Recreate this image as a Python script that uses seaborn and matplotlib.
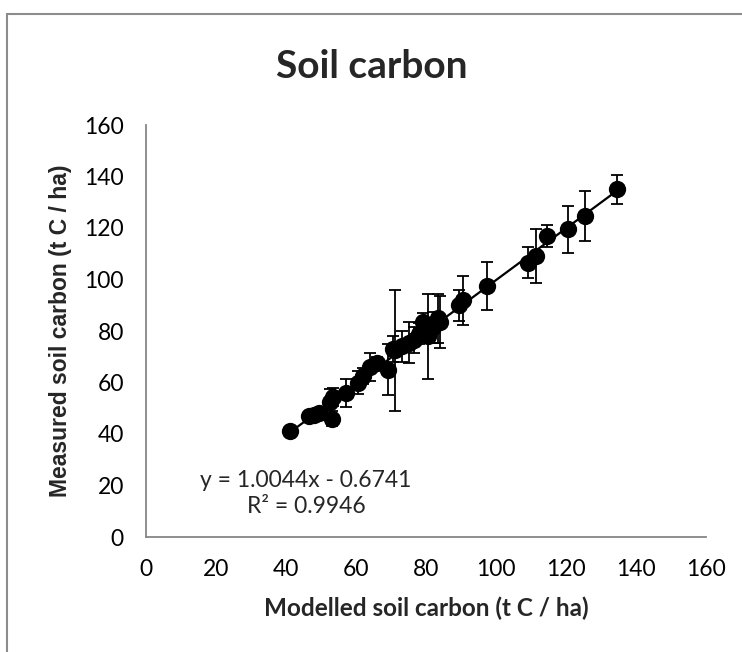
import pandas as pd
import matplotlib
matplotlib.use("Agg")
import matplotlib.pyplot as plt
import seaborn as sns
from matplotlib.patches import Rectangle

# modelled vs measured soil carbon (t C / ha), error = +/- on measured
modelled = [41, 46.5, 48, 49.5, 52.5, 53, 53.5, 57, 60.5, 62,
            64, 66, 69, 70.5, 71, 73, 75, 76.5, 78, 79,
            80.5, 82, 83.5, 84, 89.5, 90.5, 97.5, 109, 111.5, 114.5,
            120.5, 125.5, 134.5]
measured = [41, 47, 47.5, 48, 52.5, 46, 54.5, 56, 60, 62.5,
            66, 67.5, 65, 73, 72.5, 74, 75.5, 76.5, 79, 83.5,
            78, 81.5, 85, 83.5, 90, 92, 97.5, 106.5, 109, 117,
            119.5, 124.5, 135]
err = [1.5, 1.5, 1.5, 2, 5, 3, 3.5, 5.5, 4.5, 3,
       5.5, 2.5, 10, 5, 23.5, 6, 8, 5, 4, 3.5,
       16.5, 6, 9.5, 10, 6, 9.5, 9.3, 6, 10.5, 4.3,
       9.2, 9.7, 5.5]

slope = 1.0044
intercept = -0.6741
r2 = 0.9946

ticks = [0, 20, 40, 60, 80, 100, 120, 140, 160]

df = pd.DataFrame({'modelled': modelled, 'measured': measured, 'err': err})
trend = pd.DataFrame({'x': [df['modelled'].min(), df['modelled'].max()]})
trend['y'] = slope * trend['x'] + intercept

sns.set_style("white")
plt.rcParams['font.family'] = ['Lato', 'DejaVu Sans']

grey = '#868686'

fig = plt.figure(figsize=(7.42, 6.52), dpi=100)
ax = fig.add_axes([146 / 742, 1 - 537 / 652, 560 / 742, 412 / 652])

ax.errorbar(df['modelled'], df['measured'], yerr=df['err'], fmt='none',
            ecolor='black', elinewidth=1.3, capsize=4.5, capthick=1.3, zorder=2)
sns.lineplot(data=trend, x='x', y='y', color='black', linewidth=1.6, ax=ax, zorder=3)
sns.scatterplot(data=df, x='modelled', y='measured', color='black', s=155,
                edgecolor='black', linewidth=0, ax=ax, zorder=4)

ax.set_xlim(0, 160)
ax.set_ylim(0, 160)
ax.set_xticks(ticks)
ax.set_yticks(ticks)
ax.tick_params(axis='both', direction='out', length=5, width=1.2, color=grey,
               labelsize=16.5, labelcolor='black', pad=11)
for side in ['top', 'right']:
    ax.spines[side].set_visible(False)
for side in ['left', 'bottom']:
    ax.spines[side].set_color(grey)
    ax.spines[side].set_linewidth(1.3)

ax.set_xlabel("Modelled soil carbon (t C / ha)", fontsize=17.5, fontweight='bold', labelpad=12)
ax.set_ylabel("Measured soil carbon (t C / ha)", fontsize=16.5, fontweight='bold',
              family=['Liberation Sans', 'DejaVu Sans'], labelpad=9)

ax.text(45.7, 17, f"y = {slope}x - {abs(intercept)}\nR² = {r2}", fontsize=16.5,
        ha='center', va='center', multialignment='center', linespacing=1.3)

fig.text(372 / 742, 1 - 66 / 652, "Soil carbon", fontsize=28, fontweight='bold',
         ha='center', va='center')

# chart border, open at right and bottom like the cropped Excel chart
fig.add_artist(Rectangle((7 / 742, -0.2), 1.5, 1.2 - 14 / 652,
                         transform=fig.transFigure, fill=False,
                         edgecolor='#8c8c8c', linewidth=1.5))

fig.savefig("out.png", dpi=100)
